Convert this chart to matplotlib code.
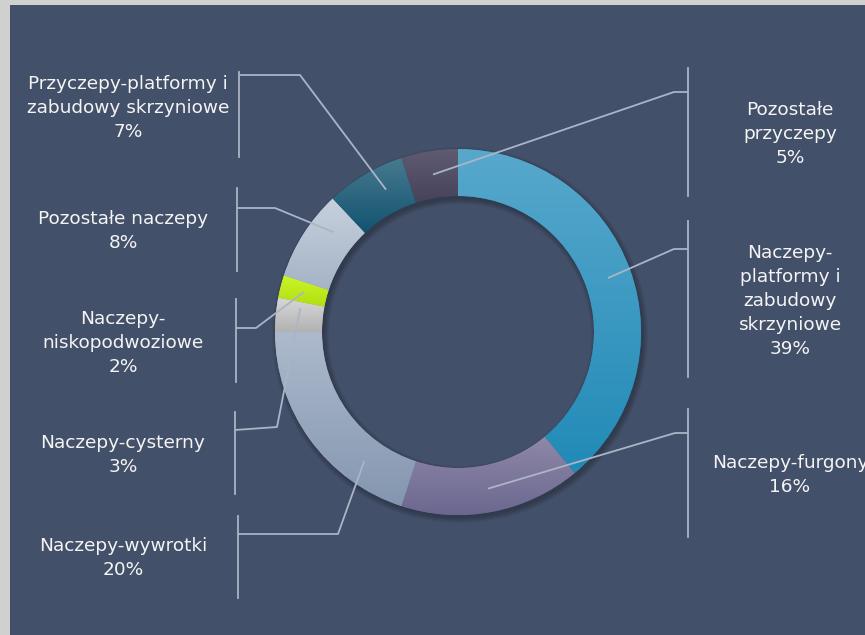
import numpy as np
import matplotlib
matplotlib.use("Agg")
from matplotlib import pyplot as plt
from matplotlib.patches import Rectangle, Wedge
from matplotlib.colors import to_rgb

# data, clockwise from 12 o'clock
labels = ["Naczepy-\nplatformy i\nzabudowy\nskrzyniowe",
          "Naczepy-furgony",
          "Naczepy-wywrotki",
          "Naczepy-cysterny",
          "Naczepy-\nniskopodwoziowe",
          "Pozostałe naczepy",
          "Przyczepy-platformy i\nzabudowy skrzyniowe",
          "Pozostałe\nprzyczepy"]
values = [39, 16, 20, 3, 2, 8, 7, 5]
top_colors = ["#58a8cc", "#8e89a8", "#adbacd", "#d8d8d8", "#cbf52c", "#c7d1dd", "#477a8f", "#5f5c72"]
bottom_colors = ["#218ab7", "#6c678f", "#8496af", "#b2b2b2", "#b0de10", "#a4b3c6", "#125370", "#46425b"]

# layout (pixels): label centre, bracket x, bracket y-range, elbow point
label_xy = [(790, 301), (790, 475), (123, 558), (123, 455), (123, 343), (123, 231), (128, 108), (790, 134)]
bracket_x = [688, 688, 238, 235, 236, 237, 239, 688]
bracket_y = [(221, 377), (409, 537), (516, 598), (412, 494), (299, 382), (188, 271), (72, 157), (68, 196)]
tick_y = [249, 433, 534, 430, 328, 208, 75, 92]
elbow = [(674, 249), (675, 433), (338, 534), (277, 427), (256, 328), (275, 208), (300, 75), (674, 92)]
anchor_frac = [0.5, 0.5, 0.25, 0.8, 0.5, 0.72, 0.65, 0.5]

W, H = 865, 635
cx, cy, r_out, ring = 458, 332, 183, 47
bg = "#435069"
line_col = "#aab5c6"

fig = plt.figure(figsize=(W / 100, H / 100), dpi=100, facecolor="#d0d0d0")
ax = fig.add_axes([0, 0, 1, 1])
ax.add_patch(Rectangle((10, 5), W - 10, H - 5, facecolor=bg, edgecolor="none", zorder=0))

# soft shadow around the ring
for i in range(6):
    ax.add_patch(Wedge((cx + 2, cy + 3), r_out + i, 0, 360, width=ring + 2 * i,
                       facecolor="black", edgecolor="none", alpha=0.045, zorder=1))

# y axis is inverted, so counterclock in data = clockwise on screen
wedges, _ = ax.pie(values, startangle=-90, counterclock=True, center=(cx, cy),
                   radius=r_out, wedgeprops=dict(width=ring, linewidth=0))

for i, w in enumerate(wedges):
    w.set_zorder(2)
    w.set_facecolor(bottom_colors[i])
    # vertical gradient clipped to the wedge
    ext = w.get_path().get_extents(w.get_patch_transform())
    c0 = np.array(to_rgb(top_colors[i]))
    c1 = np.array(to_rgb(bottom_colors[i]))
    t = np.linspace(0, 1, 200)[:, None, None]
    grad = np.repeat(c0 + (c1 - c0) * t, 2, axis=1)
    im = ax.imshow(grad, extent=(ext.x0, ext.x1, ext.y1, ext.y0), origin="upper",
                   interpolation="bilinear", zorder=3, aspect="auto")
    im.set_clip_path(w)

    # leader line: point inside the wedge -> elbow -> bracket
    th = np.deg2rad(w.theta1 + (w.theta2 - w.theta1) * anchor_frac[i])
    rm = r_out - ring / 2
    p = (cx + rm * np.cos(th), cy + rm * np.sin(th))
    ax.plot([p[0], elbow[i][0], bracket_x[i]], [p[1], elbow[i][1], tick_y[i]],
            color=line_col, lw=1.3, zorder=4, solid_capstyle="butt")
    ax.plot([bracket_x[i], bracket_x[i]], bracket_y[i], color=line_col, lw=1.3, zorder=4)

    ax.text(label_xy[i][0], label_xy[i][1], f"{labels[i]}\n{values[i]}%",
            ha="center", va="center", color="#f4f4f4", fontsize=13.3,
            family="DejaVu Sans", linespacing=1.42, zorder=5)

ax.set_xlim(0, W)
ax.set_ylim(H, 0)
ax.set_aspect("auto")
ax.set_axis_off()

fig.savefig("out.png", dpi=100, facecolor=fig.get_facecolor())
